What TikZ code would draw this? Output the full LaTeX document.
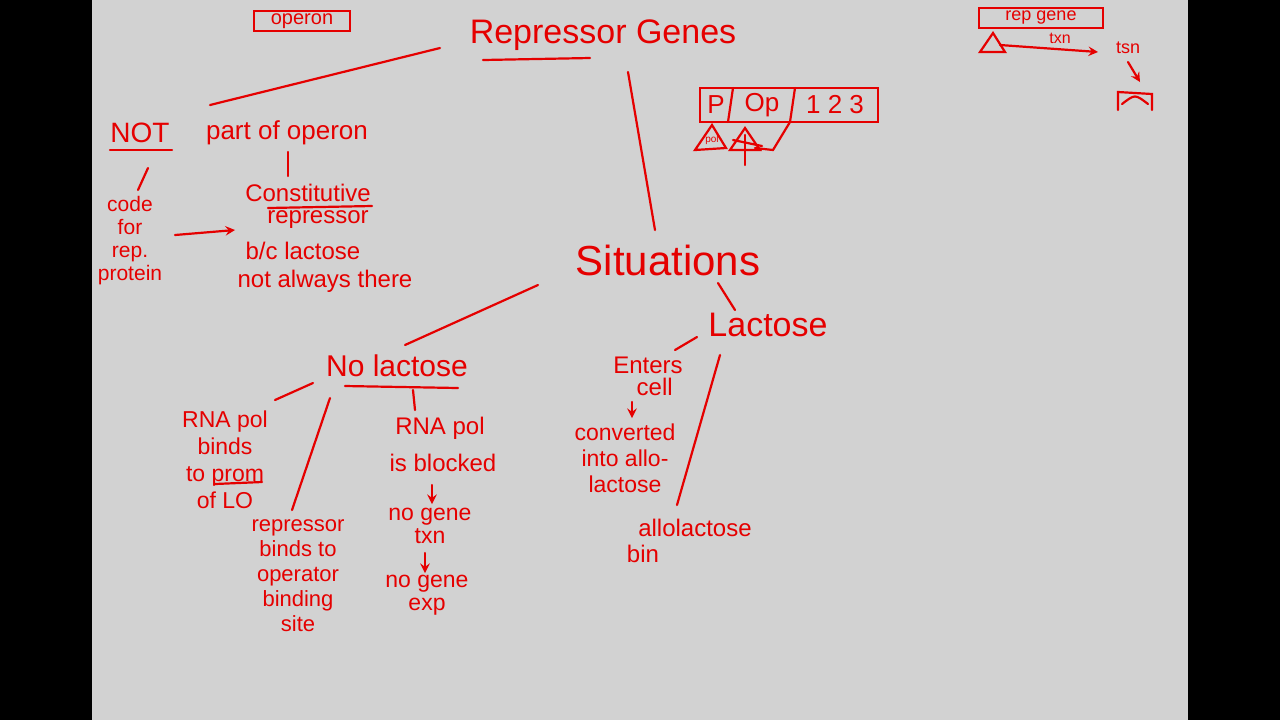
\documentclass[tikz,border=0pt]{standalone}
\usepackage{fontspec}
\setmainfont{Liberation Sans}
\begin{document}
\begin{tikzpicture}[x=0.5pt,y=-0.5pt,
  ink/.style={draw=red!90!black,line width=1.1pt,line cap=round},
  txt/.style={text=red!90!black,font=\fontsize{10}{10}\selectfont,inner sep=1pt},
  big/.style={text=red!90!black,font=\fontsize{17}{17}\selectfont,inner sep=1pt},
  mid/.style={text=red!90!black,font=\fontsize{12}{13}\selectfont,inner sep=1pt},
  arr/.style={ink,->,>=stealth}]
\fill[black] (0,0) rectangle (1280,720);
\useasboundingbox (0,0) rectangle (1280,720);
\fill[gray!35] (92,0) rectangle (1188,720);
% top
\node[big] (rg) at (603,35) {Repressor Genes};
\draw[ink] (483,60) -- (590,58);
\node[txt,draw=red!90!black,line width=1pt,minimum width=48pt,minimum height=10pt] (op) at (302,21) {operon};
\coordinate (a1) at (440,48); \coordinate (a2) at (210,105);
\draw[ink] (a1) -- (a2);
% NOT part of operon
\node[mid,font=\fontsize{14}{14}\selectfont] (not) at (140,133) {NOT};
\draw[ink] (110,150) -- (172,150);
\node[mid,font=\fontsize{13}{13}\selectfont] (part) at (287,133) {part of operon};
\coordinate (b1) at (288,152); \coordinate (b2) at (288,176);
\draw[ink] (b1) -- (b2);
\node[mid] (con) at (308,193) {Constitutive};
\draw[ink] (268,208) -- (372,206);
\node[mid] (rep) at (318,220) {repressor};
\node[mid] (bc) at (303,251) {b/c lactose};
\node[mid] (naw) at (325,281) {not always there};
\coordinate (c1) at (148,168); \coordinate (c2) at (138,190);
\draw[ink] (c1) -- (c2);
\node[txt,font=\fontsize{10.5}{11.5}\selectfont,align=center] (code) at (130,241) {code\\for\\rep.\\protein};
\draw[arr] (175,235) -- (235,230);
% Situations
\coordinate (d1) at (628,72); \coordinate (d2) at (655,230);
\draw[ink] (d1) -- (d2);
\node[big,font=\fontsize{21}{21}\selectfont] (sit) at (668,260) {Situations};
% No lactose branch
\coordinate (e1) at (538,285); \coordinate (e2) at (405,345);
\draw[ink] (e1) -- (e2);
\node[mid,font=\fontsize{15}{15}\selectfont] (nol) at (397,366) {No lactose};
\draw[ink] (345,386) -- (458,388);
\draw[ink] (313,383) -- (275,400);
\node[mid,align=center,font=\fontsize{11.5}{13.5}\selectfont] (rnab) at (225,460) {RNA pol\\binds\\to prom\\of LO};
\draw[ink] (215,484) -- (262,482);
\draw[ink] (330,398) -- (292,510);
\node[mid,align=center,font=\fontsize{11}{12.5}\selectfont] (rbo) at (298,576) {repressor\\binds to\\operator\\binding\\site};
\draw[ink] (413,390) -- (415,410);
\node[mid] (rp2) at (440,428) {RNA pol};
\node[mid] (isb) at (443,463) {is blocked};
\draw[arr] (432,485) -- (432,504);
\node[mid,align=center,font=\fontsize{11.5}{11.5}\selectfont] (ng1) at (430,526) {no gene\\txn};
\draw[arr] (425,553) -- (425,573);
\node[mid,align=center,font=\fontsize{11.5}{11.5}\selectfont] (ng2) at (427,595) {no gene\\exp};
% Lactose branch
\draw[ink] (718,283) -- (735,310);
\node[big] (lac) at (768,325) {Lactose};
\draw[ink] (697,337) -- (675,350);
\node[mid,align=center,font=\fontsize{12}{11}\selectfont] (ent) at (648,376) {Enters\\\ \ cell};
\draw[arr] (632,402) -- (632,418);
\node[mid,align=center,font=\fontsize{11.5}{13}\selectfont] (conv) at (625,458) {converted\\into allo-\\lactose};
\draw[ink] (720,355) -- (677,505);
\node[mid] (allo) at (695,528) {allolactose};
\node[mid] (bin) at (643,554) {bin};
% P OP 123 box
\draw[ink] (700,88) -- (878,88) -- (878,122) -- (700,122) -- cycle;
\draw[ink] (733,88) -- (728,122); \draw[ink] (795,88) -- (790,122);
\node[mid,font=\fontsize{13}{13}\selectfont] (p) at (716,105) {P};
\node[mid,font=\fontsize{13}{13}\selectfont] (opn) at (762,105) {Op};
\node[mid,font=\fontsize{13}{13}\selectfont] (n123) at (835,105) {1 2 3};
\draw[ink] (695,150) -- (712,125) -- (726,148) -- cycle;
\node[txt,font=\fontsize{5}{5}\selectfont] (pol) at (712,140) {pol};
\draw[ink] (730,150) -- (745,128) -- (760,150) -- cycle;
\draw[ink] (745,135) -- (745,165); \draw[ink] (733,140) -- (762,146);
\draw[ink] (790,122) -- (773,150) -- (755,148);
% top right
\node[txt,font=\fontsize{9}{9}\selectfont,draw=red!90!black,line width=1pt,minimum width=62pt,minimum height=10pt] (rgb) at (1041,18) {rep gene};
\draw[ink] (980,52) -- (993,33) -- (1005,52) -- cycle;
\coordinate (t1) at (1000,45); \coordinate (t2) at (1098,52);
\draw[arr] (t1) -- (t2);
\node[txt,font=\fontsize{8}{8}\selectfont] (txn) at (1060,38) {txn};
\node[txt,font=\fontsize{9}{9}\selectfont] (tsn) at (1128,48) {tsn};
\draw[arr] (1128,62) -- (1140,82);
\draw[ink] (1118,110) -- (1118,92) -- (1152,94) -- (1152,110);
\draw[ink] (1122,104) .. controls (1135,94) .. (1148,104);
\end{tikzpicture}
\end{document}
